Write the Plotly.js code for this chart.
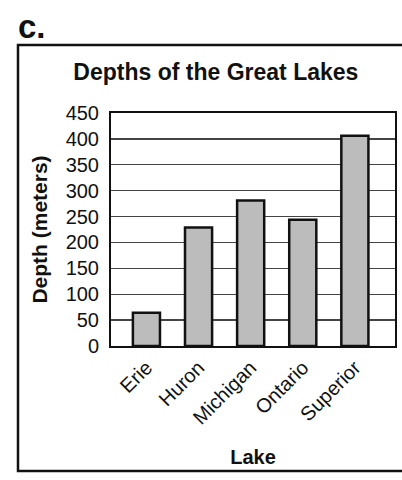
<!DOCTYPE html>
<html>
<head>
<meta charset="utf-8">
<script src="https://cdn.plot.ly/plotly-3.0.1.min.js"></script>
<style>
html,body{margin:0;padding:0;background:#fff;}
#chart{width:402px;height:480px;}
</style>
</head>
<body>
<div id="chart"></div>
<script>
const lakes = ["Erie", "Huron", "Michigan", "Ontario", "Superior"];
const depths = [64, 229, 281, 244, 406];
const yTicks = [0, 50, 100, 150, 200, 250, 300, 350, 400, 450];

const FONT = "Liberation Sans, Arial, Helvetica, sans-serif";

const trace = {
  type: "bar",
  x: lakes,
  y: depths,
  width: 0.52,
  marker: {color: "#bcbcbc", line: {color: "#111", width: 2.5}},
  hoverinfo: "x+y"
};

const layout = {
  width: 402, height: 480,
  margin: {l: 111, r: 7, t: 113, b: 134},
  paper_bgcolor: "#ffffff",
  plot_bgcolor: "#ffffff",
  showlegend: false,
  font: {family: FONT, color: "#111"},
  title: {
    text: "<b>Depths of the Great Lakes</b>",
    font: {family: FONT, size: 23, color: "#111"},
    x: 0.537, xanchor: "center",
    y: 1 - 72/480, yanchor: "middle", yref: "container"
  },
  xaxis: {
    type: "category",
    range: [-0.68, 4.77],
    tickangle: -45,
    tickfont: {family: FONT, size: 20, color: "#111"},
    showgrid: false,
    showline: true, linecolor: "#111", linewidth: 2, mirror: true,
    ticks: "",
    title: {text: "<b>Lake</b>", font: {family: FONT, size: 20, color: "#111"}, standoff: 22}
  },
  yaxis: {
    range: [0, 450],
    tickvals: yTicks,
    ticktext: yTicks.map(String),
    tickfont: {family: FONT, size: 20, color: "#111"},
    ticks: "",
    ticklabelstandoff: 6,
    showgrid: true, gridcolor: "#444", gridwidth: 1.3,
    zeroline: false,
    showline: true, linecolor: "#111", linewidth: 2, mirror: true,
    title: {text: "<b>Depth (meters)</b>", font: {family: FONT, size: 21, color: "#111"}, standoff: 12}
  },
  shapes: [{
    type: "rect", xref: "paper", yref: "paper",
    x0: (18 - 111)/284, x1: (406 - 111)/284,
    y0: (346 - 471)/233, y1: (346 - 45)/233,
    line: {color: "#111", width: 2.5}, fillcolor: "rgba(0,0,0,0)", layer: "below"
  }],
  annotations: [{
    text: "<b>c.</b>", xref: "paper", yref: "paper",
    x: (16 - 111)/284, y: (346 - 26)/233,
    xanchor: "left", yanchor: "middle", showarrow: false,
    font: {family: FONT, size: 33, color: "#111"}
  }]
};

Plotly.newPlot("chart", [trace], layout, {displayModeBar: false, staticPlot: true});
</script>
</body>
</html>
